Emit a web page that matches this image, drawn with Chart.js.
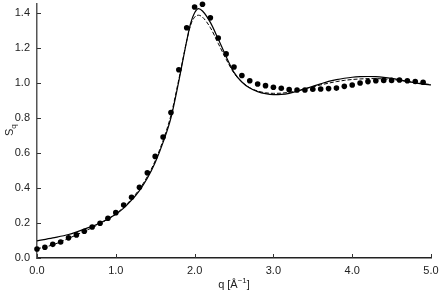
<!DOCTYPE html>
<html>
<head>
<meta charset="utf-8">
<script src="https://cdn.jsdelivr.net/npm/chart.js@4"></script>
<style>
  html, body { margin: 0; padding: 0; background: #fff; }
  #wrap { width: 442px; height: 294px; }
</style>
</head>
<body>
<div id="wrap"><canvas id="chart" width="442" height="294"></canvas></div>
<script>
// measured points (dots)
const qDots = [0.0, 0.1, 0.2, 0.3, 0.4, 0.5, 0.6, 0.7, 0.8, 0.9,
  1.0, 1.1, 1.2, 1.3, 1.4, 1.5, 1.6, 1.7, 1.8, 1.9,
  2.0, 2.1, 2.2, 2.3, 2.4, 2.5, 2.6, 2.7, 2.8, 2.9,
  3.0, 3.1, 3.2, 3.3, 3.4, 3.5, 3.6, 3.7, 3.8, 3.9,
  4.0, 4.1, 4.2, 4.3, 4.4, 4.5, 4.6, 4.7, 4.8, 4.9];
const sDots = [0.051, 0.061, 0.078, 0.091, 0.115, 0.132, 0.153, 0.177, 0.198, 0.227,
  0.259, 0.302, 0.347, 0.404, 0.486, 0.580, 0.691, 0.831, 1.075, 1.314,
  1.433, 1.449, 1.371, 1.256, 1.165, 1.090, 1.042, 1.012, 0.993, 0.984,
  0.975, 0.969, 0.961, 0.959, 0.959, 0.963, 0.965, 0.967, 0.970, 0.980,
  0.988, 0.999, 1.007, 1.012, 1.014, 1.014, 1.016, 1.012, 1.008, 1.003];

// model curves
const qCurve = [0.0, 0.2, 0.4, 0.6, 0.8, 1.0, 1.1, 1.2, 1.3, 1.4,
  1.5, 1.6, 1.7, 1.8, 1.9, 1.95, 2.0, 2.05, 2.1, 2.2,
  2.3, 2.4, 2.5, 2.6, 2.7, 2.8, 2.9, 3.0, 3.1, 3.2,
  3.3, 3.4, 3.5, 3.6, 3.7, 3.8, 3.9, 4.0, 4.1, 4.2,
  4.3, 4.4, 4.5, 4.6, 4.7, 4.8, 4.9, 5.0];
const sSolid = [0.098, 0.115, 0.134, 0.165, 0.200, 0.250, 0.285, 0.330, 0.385, 0.455,
  0.545, 0.660, 0.800, 1.010, 1.240, 1.340, 1.400, 1.424, 1.410, 1.345,
  1.250, 1.150, 1.060, 1.005, 0.970, 0.950, 0.938, 0.933, 0.934, 0.940,
  0.952, 0.966, 0.980, 0.994, 1.008, 1.018, 1.026, 1.032, 1.035, 1.036,
  1.035, 1.031, 1.025, 1.017, 1.008, 1.000, 0.993, 0.988];
const sDashed = [0.052, 0.075, 0.112, 0.152, 0.196, 0.252, 0.290, 0.337, 0.393, 0.465,
  0.555, 0.672, 0.815, 1.020, 1.240, 1.330, 1.375, 1.386, 1.375, 1.315,
  1.225, 1.135, 1.055, 1.005, 0.972, 0.953, 0.943, 0.940, 0.941, 0.946,
  0.955, 0.966, 0.977, 0.988, 0.998, 1.007, 1.014, 1.019, 1.022, 1.024,
  1.024, 1.022, 1.019, 1.014, 1.008, 1.001, 0.995, 0.990];

const xTicks = [0, 1, 2, 3, 4, 5];
const yTicks = [0, 0.2, 0.4, 0.6, 0.8, 1.0, 1.2, 1.4];

const pts = (xs, ys) => xs.map((x, i) => ({ x: x, y: ys[i] }));
const FONT = 'Liberation Sans, Arial, sans-serif';

// inward tick marks + axis titles
const decor = {
  id: 'decor',
  afterDraw(chart) {
    const ctx = chart.ctx;
    const xs = chart.scales.x, ys = chart.scales.y;
    const a = chart.chartArea;
    ctx.save();
    ctx.strokeStyle = '#333';
    ctx.lineWidth = 1;
    yTicks.forEach(v => {
      const y = Math.round(ys.getPixelForValue(v)) + 0.5;
      ctx.beginPath(); ctx.moveTo(a.left, y); ctx.lineTo(a.left + 4, y); ctx.stroke();
    });
    xTicks.forEach(v => {
      const x = Math.round(xs.getPixelForValue(v)) + 0.5;
      ctx.beginPath(); ctx.moveTo(x, a.bottom); ctx.lineTo(x, a.bottom - 4); ctx.stroke();
    });
    ctx.fillStyle = '#222';
    // x title: q [Å^-1]
    const cx = (a.left + a.right) / 2;
    const t1 = 'q [Å', t2 = '−1', t3 = ']';
    ctx.font = '11px ' + FONT; const w1 = ctx.measureText(t1).width;
    ctx.font = '8px ' + FONT; const w2 = ctx.measureText(t2).width;
    ctx.font = '11px ' + FONT; const w3 = ctx.measureText(t3).width;
    const x0 = cx - (w1 + w2 + w3) / 2;
    const by = 288;
    ctx.textAlign = 'left';
    ctx.textBaseline = 'alphabetic';
    ctx.fillText(t1, x0, by);
    ctx.font = '8px ' + FONT; ctx.fillText(t2, x0 + w1, by - 5);
    ctx.font = '11px ' + FONT; ctx.fillText(t3, x0 + w1 + w2, by);
    // y title: S_q
    ctx.save();
    ctx.translate(13, (a.top + a.bottom) / 2 + 5);
    ctx.rotate(-Math.PI / 2);
    ctx.font = '11px ' + FONT;
    ctx.fillText('S', 0, 0);
    const ws = ctx.measureText('S').width;
    ctx.font = '8px ' + FONT;
    ctx.fillText('q', ws, 3);
    ctx.restore();
    ctx.restore();
  }
};

new Chart(document.getElementById('chart'), {
  type: 'scatter',
  data: {
    datasets: [
      { label: 'data', data: pts(qDots, sDots), showLine: false, clip: false,
        pointRadius: 2.8, pointBackgroundColor: '#000', pointBorderWidth: 0 },
      { label: 'solid', data: pts(qCurve, sSolid), showLine: true, pointRadius: 0,
        borderColor: '#000', borderWidth: 1.2, cubicInterpolationMode: 'monotone' },
      { label: 'dashed', data: pts(qCurve, sDashed), showLine: true, pointRadius: 0,
        borderColor: '#000', borderWidth: 1, borderDash: [4, 2], cubicInterpolationMode: 'monotone' }
    ]
  },
  options: {
    responsive: false,
    animation: false,
    layout: { padding: { left: 0, right: 11, top: 2, bottom: 0 } },
    plugins: { legend: { display: false }, tooltip: { enabled: false } },
    scales: {
      x: {
        type: 'linear', min: 0, max: 5,
        afterBuildTicks: s => { s.ticks = xTicks.map(v => ({ value: v })); },
        afterFit: s => { s.height = 36; s.paddingLeft = 0; s.paddingRight = 0; },
        grid: { display: false, drawTicks: false },
        border: { display: true, color: '#222', width: 1.5 },
        ticks: { padding: 6, color: '#222', font: { family: FONT, size: 11 },
          callback: v => v.toFixed(1), maxRotation: 0 }
      },
      y: {
        type: 'linear', min: 0, max: 1.45,
        afterBuildTicks: s => { s.ticks = yTicks.map(v => ({ value: v })); },
        afterFit: s => { s.width = 37; s.paddingTop = 0; s.paddingBottom = 0; },
        grid: { display: false, drawTicks: false },
        border: { display: true, color: '#555', width: 1.5 },
        ticks: { padding: 7, color: '#222', font: { family: FONT, size: 11 },
          callback: v => v.toFixed(1) }
      }
    }
  },
  plugins: [decor]
});
</script>
</body>
</html>
